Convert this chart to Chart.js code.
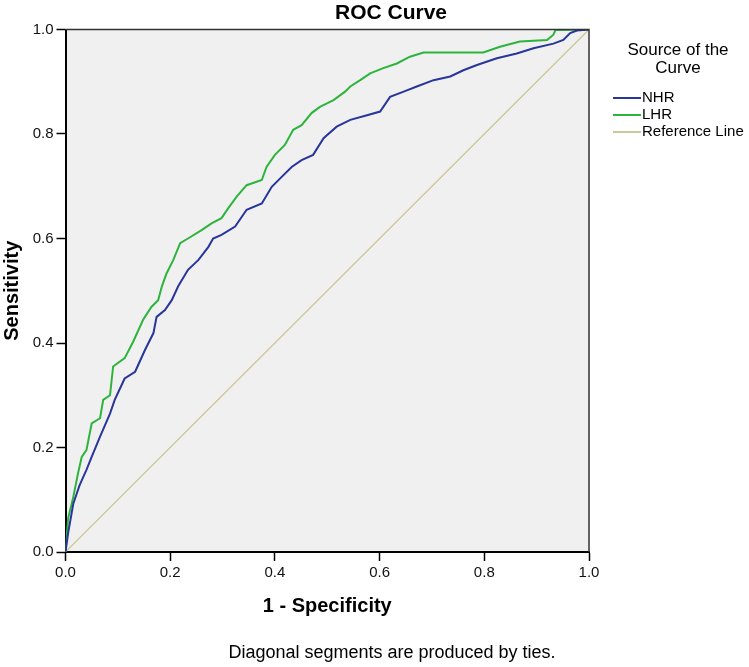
<!DOCTYPE html>
<html>
<head>
<meta charset="utf-8">
<script src="https://cdn.jsdelivr.net/npm/chart.js@4.4.0/dist/chart.umd.min.js"></script>
<style>
  html, body { margin: 0; padding: 0; background: #fff; }
  #wrap { width: 749px; height: 667px; }
</style>
</head>
<body>
<div id="wrap"><canvas id="myChart" width="749" height="667"></canvas></div>
<script>
// ROC points (1 - specificity, sensitivity)
var nhrX = [0, 0.005, 0.015, 0.027, 0.04, 0.05, 0.066, 0.085, 0.094, 0.113, 0.133, 0.152, 0.168, 0.174, 0.19, 0.203,
    0.215, 0.234, 0.254, 0.273, 0.282, 0.298, 0.324, 0.346, 0.375, 0.394, 0.413, 0.432, 0.451, 0.473, 0.493, 0.518,
    0.544, 0.576, 0.601, 0.620, 0.646, 0.671, 0.703, 0.735, 0.760, 0.786, 0.824, 0.862, 0.894, 0.932, 0.951, 0.964, 0.977, 1];
var nhrY = [0, 0.036, 0.093, 0.128, 0.157, 0.182, 0.221, 0.265, 0.291, 0.332, 0.345, 0.387, 0.419, 0.45, 0.463, 0.482,
    0.508, 0.540, 0.559, 0.584, 0.600, 0.607, 0.623, 0.655, 0.667, 0.699, 0.718, 0.737, 0.750, 0.760, 0.792, 0.814,
    0.827, 0.836, 0.843, 0.871, 0.881, 0.891, 0.903, 0.910, 0.922, 0.932, 0.945, 0.954, 0.964, 0.973, 0.980, 0.993, 0.998, 1];

var lhrX = [0, 0.005, 0.015, 0.024, 0.031, 0.04, 0.05, 0.066, 0.072, 0.085, 0.091, 0.113, 0.129, 0.148, 0.164, 0.177,
    0.184, 0.193, 0.206, 0.219, 0.234, 0.26, 0.279, 0.298, 0.311, 0.327, 0.346, 0.375, 0.384, 0.40, 0.419, 0.435,
    0.451, 0.470, 0.486, 0.512, 0.534, 0.544, 0.563, 0.582, 0.607, 0.633, 0.658, 0.684, 0.798, 0.830, 0.868, 0.920, 0.932, 0.936, 1];
var lhrY = [0, 0.064, 0.106, 0.151, 0.182, 0.195, 0.246, 0.256, 0.291, 0.30, 0.355, 0.371, 0.402, 0.444, 0.469, 0.482,
    0.508, 0.533, 0.559, 0.591, 0.600, 0.616, 0.629, 0.639, 0.658, 0.680, 0.702, 0.712, 0.737, 0.760, 0.779, 0.808,
    0.817, 0.840, 0.852, 0.865, 0.881, 0.891, 0.903, 0.916, 0.926, 0.935, 0.948, 0.956, 0.956, 0.967, 0.977, 0.980, 0.990, 0.999, 1];

var refX = [0, 1];
var refY = [0, 1];

var tickValues = [0, 0.2, 0.4, 0.6, 0.8, 1.0];

var chartTitle = 'ROC Curve';
var footNote = 'Diagonal segments are produced by ties.';
var legendTitle = ['Source of the', 'Curve'];

function pts(xs, ys) {
    var out = [];
    for (let i = 0; i < xs.length; i++) {
        out.push({ x: xs[i], y: ys[i] });
    }
    return out;
}

var FONT = "'Liberation Sans', Arial, sans-serif";

// grey plot background + dark frame on top/right
var plotFrame = {
    id: 'plotFrame',
    beforeDraw: function(chart) {
        var a = chart.chartArea, c = chart.ctx;
        c.save();
        c.fillStyle = '#f0f0f0';
        c.fillRect(a.left, a.top, a.right - a.left, a.bottom - a.top);
        c.restore();
    },
    afterDraw: function(chart) {
        var a = chart.chartArea, c = chart.ctx;
        c.save();
        c.strokeStyle = '#333';
        c.lineWidth = 1.5;
        c.beginPath();
        c.moveTo(a.left, a.top);
        c.lineTo(a.right, a.top);
        c.lineTo(a.right, a.bottom);
        c.stroke();
        c.restore();
    }
};

// title, footnote and SPSS-style legend
var texts = {
    id: 'texts',
    afterDraw: function(chart) {
        var c = chart.ctx;
        c.save();
        c.fillStyle = '#000';
        c.textAlign = 'center';
        c.textBaseline = 'middle';
        c.font = 'bold 21px ' + FONT;
        c.fillText(chartTitle, 391, 13);
        c.font = '18px ' + FONT;
        c.fillText(footNote, 392, 653);

        c.font = '17px ' + FONT;
        c.fillText(legendTitle[0], 678, 50);
        c.fillText(legendTitle[1], 678, 68);
        c.font = '15px ' + FONT;
        c.textAlign = 'left';
        var y = 98;
        chart.data.datasets.forEach(function(ds) {
            c.strokeStyle = ds.borderColor;
            c.lineWidth = 2;
            c.beginPath();
            c.moveTo(613, y);
            c.lineTo(641, y);
            c.stroke();
            c.fillText(ds.label, 642, y);
            y += 17;
        });
        c.restore();
    }
};

var ctx = document.getElementById('myChart').getContext('2d');
var myChart = new Chart(ctx, {
    type: 'scatter',
    data: {
        datasets: [{
            label: 'NHR',
            data: pts(nhrX, nhrY),
            borderColor: '#28359b',
            borderWidth: 2,
            showLine: true,
            pointRadius: 0,
            tension: 0
        }, {
            label: 'LHR',
            data: pts(lhrX, lhrY),
            borderColor: '#2db43c',
            borderWidth: 2,
            showLine: true,
            pointRadius: 0,
            tension: 0
        }, {
            label: 'Reference Line',
            data: pts(refX, refY),
            borderColor: '#cdc898',
            borderWidth: 1.3,
            showLine: true,
            pointRadius: 0
        }]
    },
    options: {
        responsive: false,
        animation: false,
        layout: { padding: { left: 0, right: 160, top: 29.5, bottom: 0 } },
        plugins: {
            legend: { display: false },
            tooltip: { enabled: false }
        },
        scales: {
            x: {
                type: 'linear',
                min: 0,
                max: 1,
                afterBuildTicks: function(s) { s.ticks = tickValues.map(function(v) { return { value: v }; }); },
                afterFit: function(s) { s.height = 115; },
                ticks: {
                    color: '#111',
                    padding: 3,
                    font: { family: FONT, size: 15 },
                    callback: function(v) { return Number(v).toFixed(1); }
                },
                grid: { drawOnChartArea: false, drawTicks: true, tickLength: 9, tickColor: '#000', tickWidth: 1.5 },
                border: { color: '#000', width: 2 },
                title: {
                    display: true,
                    text: '1 - Specificity',
                    color: '#000',
                    font: { family: FONT, size: 20, weight: 'bold' },
                    padding: { top: 12, bottom: 49 }
                }
            },
            y: {
                type: 'linear',
                min: 0,
                max: 1,
                afterBuildTicks: function(s) { s.ticks = tickValues.map(function(v) { return { value: v }; }); },
                afterFit: function(s) { s.width = 65.5; },
                ticks: {
                    color: '#111',
                    padding: 3,
                    font: { family: FONT, size: 15 },
                    callback: function(v) { return Number(v).toFixed(1); }
                },
                grid: { drawOnChartArea: false, drawTicks: true, tickLength: 9, tickColor: '#000', tickWidth: 1.5 },
                border: { color: '#000', width: 2 },
                title: {
                    display: true,
                    text: 'Sensitivity',
                    color: '#000',
                    font: { family: FONT, size: 20, weight: 'bold' },
                    padding: { top: 0, bottom: 0 }
                }
            }
        }
    },
    plugins: [plotFrame, texts]
});
</script>
</body>
</html>
